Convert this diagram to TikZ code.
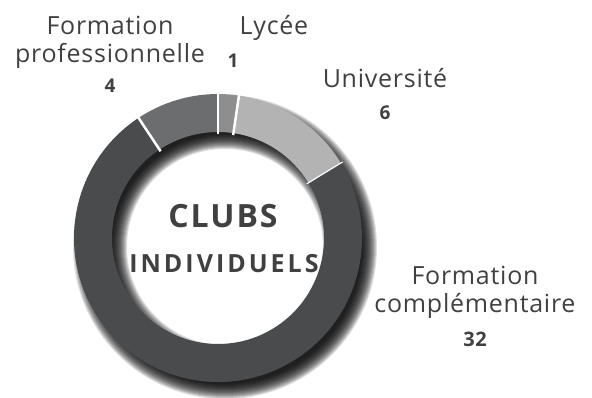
\documentclass[tikz,border=0pt]{standalone}
\usepackage{fontspec}
\setmainfont{Open Sans}[LetterSpace=3]
\newfontfamily\spacedA[LetterSpace=6]{Open Sans}
\newfontfamily\spacedB[LetterSpace=12]{Open Sans}
\usetikzlibrary{positioning}
\definecolor{textgray}{HTML}{404040}
\definecolor{cfp}{HTML}{6C6D6F}
\definecolor{cly}{HTML}{8E8E8E}
\definecolor{cun}{HTML}{B3B3B3}
\definecolor{cfc}{HTML}{4A4B4D}
% one part of the ring: colour, start angle, end angle
\newcommand{\ringpart}[3]{\fill[#1] (#2:144) arc[start angle=#2, end angle=#3, radius=144] -- (#3:106) arc[start angle=#3, end angle=#2, radius=106] -- cycle;}

\begin{document}
\begin{tikzpicture}[x=1pt, y=1pt,
		every node/.style={text=textgray, inner sep=0pt},
		lab/.style={font=\fontsize{25}{28}\selectfont, align=center, anchor=base},
		num/.style={font=\fontsize{19}{20}\selectfont\bfseries, anchor=base}]
				\useasboundingbox (0,0) rectangle (592,398);
				\coordinate (O) at (218,160);
				\coordinate (S) at (225,151);
				
				% shadow
				\foreach \i in {0,...,15}
					\fill[black, opacity=0.12, even odd rule] (S) circle[radius=137+\i] (S) circle[radius=113-\i];
				
				\begin{scope}[shift={(218,160)}]
					\ringpart{cly}{90}{81.63}
					\ringpart{cun}{81.63}{31.40}
					\ringpart{cfc}{31.40}{-236.51}
					\ringpart{cfp}{123.49}{90}
					\draw[white, line width=2.5pt] (90:104) -- (90:146);
					\draw[white, line width=2.5pt] (81.63:104) -- (81.63:146);
					\draw[white, line width=2.5pt] (123.49:104) -- (123.49:146);
					\draw[white, line width=1.2pt] (31.40:104) -- (31.40:146);
				\end{scope}
				
				\node[font=\spacedA\fontsize{32}{32}\selectfont\bfseries, anchor=base] (T1) at (223,170) {CLUBS};
				\node[font=\spacedB\fontsize{25}{25}\selectfont\bfseries, anchor=base] (T2) at (224,125) {INDIVIDUELS};
				
				\node[lab] (FP) at (110,335) {Formation\\professionnelle};
				\node[num] (FP4) at (110,305) {4};
				\node[lab] (LY) at (274,363) {Lycée};
				\node[num] (LY1) at (233,330) {1};
				\node[lab] (UN) at (385,310) {Université};
				\node[num] (UN6) at (385,278) {6};
				\node[lab] (FC) at (475,85) {Formation\\complémentaire};
				\node[num, font=\fontsize{20}{20}\selectfont\bfseries] (FC32) at (475,51) {32};
			\end{tikzpicture}
\end{document}
